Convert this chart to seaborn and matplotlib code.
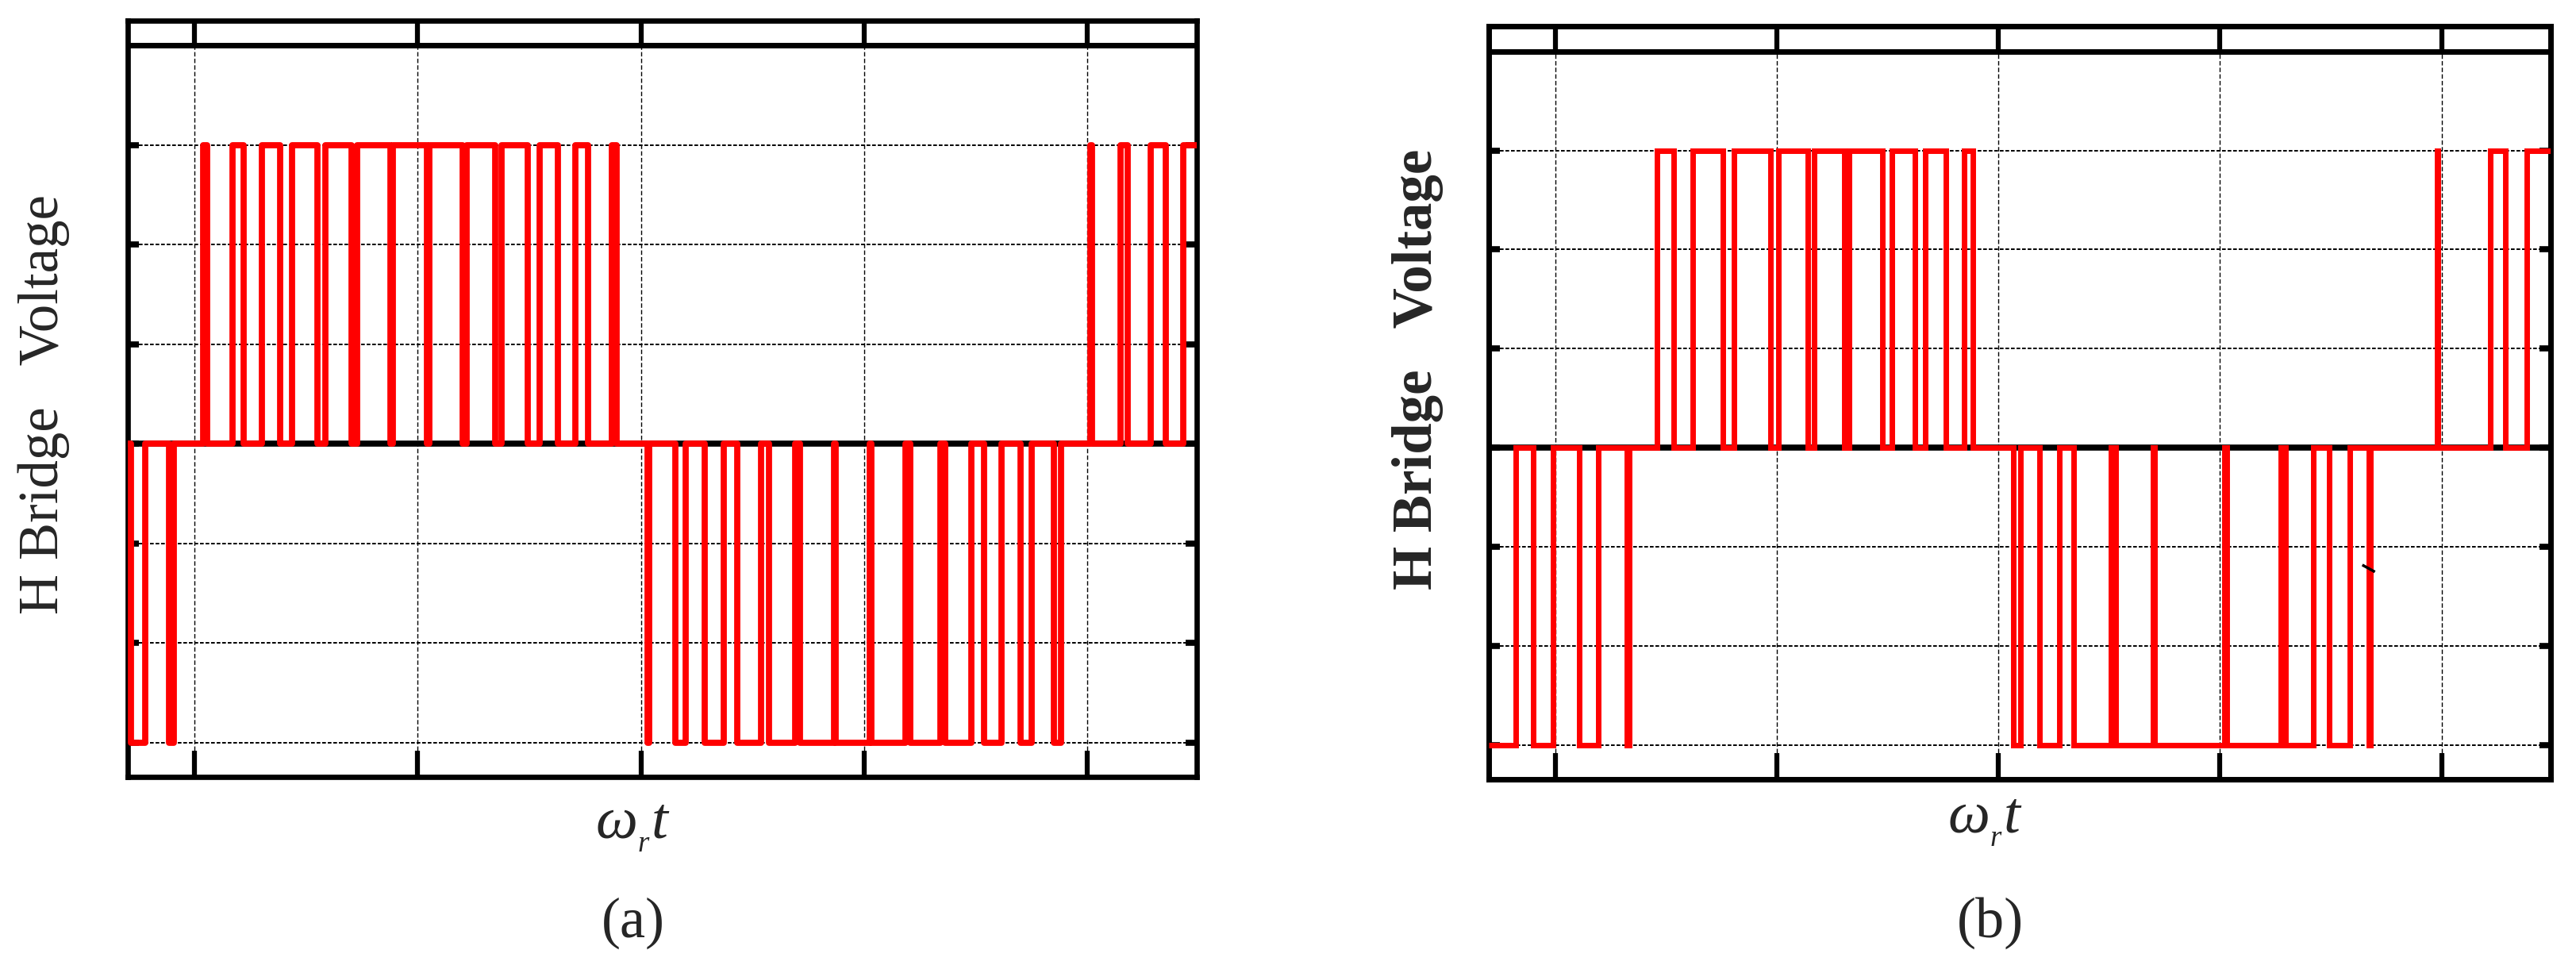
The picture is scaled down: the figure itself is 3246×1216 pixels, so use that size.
import matplotlib
matplotlib.use("Agg")
import matplotlib.pyplot as plt
import seaborn as sns

# ---------------- data ----------------
x_ticks = [1, 2, 3, 4, 5]
y_ticks = [-3, -2, -1, 0, 1, 2, 3]
x_range = [0.700, 5.490]
y_range = [-3.34, 4.25]

# panel (a): switching instants and level after each switch
start_a = 0
switch_a = [0.716, 0.778, 0.886, 0.908, 1.038, 1.057, 1.170, 1.219, 1.302, 1.385,
            1.436, 1.549, 1.587, 1.704, 1.728, 1.878, 1.888, 2.041, 2.050, 2.201,
            2.219, 2.346, 2.376, 2.493, 2.547, 2.627, 2.707, 2.763, 2.868, 2.892,
            3.031, 3.035, 3.155, 3.201, 3.286, 3.371, 3.430, 3.536, 3.572, 3.692,
            3.713, 3.863, 3.873, 4.023, 4.033, 4.186, 4.205, 4.340, 4.361, 4.480,
            4.537, 4.614, 4.701, 4.749, 4.850, 4.881, 5.014, 5.020, 5.147, 5.179,
            5.281, 5.349, 5.428]
level_a = [-3, 0, -3, 0, 3, 0, 3, 0, 3, 0,
           3, 0, 3, 0, 3, 0, 3, 0, 3, 0,
           3, 0, 3, 0, 3, 0, 3, 0, 3, 0,
           -3, 0, -3, 0, -3, 0, -3, 0, -3, 0,
           -3, 0, -3, 0, -3, 0, -3, 0, -3, 0,
           -3, 0, -3, 0, -3, 0, 3, 0, 3, 0,
           3, 0, 3]

# panel (b)
start_b = -3
switch_b = [0.823, 0.902, 0.990, 1.110, 1.194, 1.322, 1.335, 1.458, 1.533, 1.619,
            1.756, 1.807, 1.971, 2.007, 2.141, 2.170, 2.305, 2.327, 2.477, 2.521,
            2.622, 2.668, 2.762, 2.846, 2.885, 3.068, 3.100, 3.186, 3.275, 3.338,
            3.508, 3.531, 3.699, 3.704, 4.019, 4.029, 4.273, 4.295, 4.420, 4.493,
            4.587, 4.670, 4.680, 4.981, 4.985, 5.218, 5.288, 5.383]
level_b = [0, -3, 0, -3, 0, -3, 0, 3, 0, 3,
           0, 3, 0, 3, 0, 3, 0, 3, 0, 3,
           0, 3, 0, 3, 0, -3, 0, -3, 0, -3,
           0, -3, 0, -3, 0, -3, 0, -3, 0, -3,
           0, -3, 0, 3, 0, 3, 0, 3]

# small black stroke visible in panel (b)
mark_b_x = [4.642, 4.699]
mark_b_y = [-1.18, -1.25]

ylabel_text = "H Bridge   Voltage"
panel_labels = ["(a)", "(b)"]

# ---------------- style ----------------
sns.set_style("white")
plt.rcParams["font.family"] = ["Liberation Serif", "DejaVu Serif"]
plt.rcParams["mathtext.fontset"] = "custom"
plt.rcParams["mathtext.it"] = "Liberation Serif:italic"
plt.rcParams["mathtext.rm"] = "Liberation Serif"

W, H = 3246, 1216
fig = plt.figure(figsize=(W / 100, H / 100), dpi=100)
fig.patch.set_facecolor("white")

# axes rectangles in pixels (left, top, right, bottom)
rects = [(160.7, 25.7, 1508.3, 978.6), (1876.0, 33.3, 3213.5, 981.8)]
panels = [
    dict(start=start_a, t=switch_a, v=level_a, lw=5.6, join="round", weight="normal",
         ylab=(-0.0784, 0.4923), xlab=(0.4722, -0.0823), plab=(798, 1163)),
    dict(start=start_b, t=switch_b, v=level_b, lw=5.0, join="miter", weight="bold",
         ylab=(-0.0668, 0.5449), xlab=(0.468, -0.0719), plab=(2508, 1163)),
]

for i, (rect, p) in enumerate(zip(rects, panels)):
    l, t, r, b = rect
    ax = fig.add_axes([l / W, 1 - b / H, (r - l) / W, (b - t) / H])
    ax.set_facecolor("white")

    xs = [x_range[0]] + p["t"] + [x_range[1]]
    ys = [p["start"]] + p["v"] + [p["v"][-1]]
    sns.lineplot(x=xs, y=ys, ax=ax, color="#ff0000", lw=p["lw"], drawstyle="steps-post",
                 estimator=None, sort=False, legend=False, zorder=4,
                 solid_joinstyle=p["join"], solid_capstyle="round" if p["join"] == "round" else "butt")

    ax.axhline(0, color="black", lw=5.5, zorder=3)
    ax.axhline(4, color="black", lw=5.0, zorder=3)

    if i == 1:
        ax.plot(mark_b_x, mark_b_y, color="black", lw=2.5, zorder=5, solid_capstyle="butt")

    ax.set_xlim(*x_range)
    ax.set_ylim(*y_range)
    ax.set_xticks(x_ticks)
    ax.set_yticks(y_ticks)
    ax.tick_params(axis="x", direction="in", length=23.5, width=4.5, top=True, bottom=True,
                   labelbottom=False, labeltop=False, color="black")
    ax.tick_params(axis="y", direction="in", length=10, width=5.5, left=True, right=True,
                   labelleft=False, labelright=False, color="black")

    ax.grid(axis="x", color="black", lw=1.0, linestyle=(0, (4, 2)), zorder=1)
    ax.grid(axis="y", color="black", lw=1.4, linestyle=(0, (2.4, 1.2)), zorder=1)
    ax.set_axisbelow(True)

    for s in ax.spines.values():
        s.set_linewidth(4.8 if i == 0 else 5.0)
        s.set_color("black")
        s.set_visible(True)

    ax.set_ylabel(ylabel_text, fontsize=51, fontweight=p["weight"], family="Liberation Serif")
    ax.yaxis.set_label_coords(*p["ylab"])
    ax.yaxis.label.set_va("center")
    ax.yaxis.label.set_ha("center")

    ax.set_xlabel(r"$\omega_{{}_{r}}t$", fontsize=54)
    ax.xaxis.set_label_coords(*p["xlab"])
    ax.xaxis.label.set_va("baseline")

    fig.text(p["plab"][0] / W, 1 - p["plab"][1] / H, panel_labels[i], fontsize=52,
             ha="center", va="center", family="Liberation Serif")

fig.savefig("out.png", dpi=100, facecolor="white")
